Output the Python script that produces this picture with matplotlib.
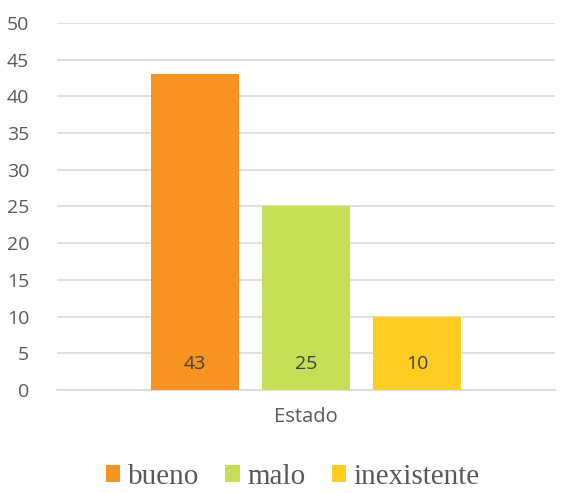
import matplotlib
matplotlib.use("Agg")
import matplotlib.pyplot as plt
from matplotlib.patches import Patch

categories = ["bueno", "malo", "inexistente"]
values = [43, 25, 10]
colors = ["#F7931E", "#C4DF55", "#FFCC22"]
yticks = [0, 5, 10, 15, 20, 25, 30, 35, 40, 45, 50]
group_label = "Estado"

text_color = "#595959"
grid_color = "#D9D9D9"

fig = plt.figure(figsize=(5.74, 4.93), dpi=100)
ax = fig.add_axes([57 / 574, 1 - 390 / 493, (555 - 57) / 574, (390 - 23) / 493])

x = list(range(len(values)))
bars = ax.bar(x, values, width=0.79, color=colors, zorder=3)

for xi, v in zip(x, values):
    ax.annotate(str(v), xy=(xi, 0), xytext=(0, 19), textcoords="offset points",
                ha="center", va="center", fontsize=14, color="#404040",
                family="Open Sans", zorder=4)

ax.set_xlim(-1.243, 3.243)
ax.set_ylim(0, 50)
ax.set_yticks(yticks)
ax.yaxis.grid(True, color=grid_color, linewidth=1.2, zorder=0)
ax.set_axisbelow(True)
for s in ["top", "right", "left"]:
    ax.spines[s].set_visible(False)
ax.spines["bottom"].set_color(grid_color)
ax.spines["bottom"].set_linewidth(1.2)
ax.tick_params(axis="y", length=0, pad=20, labelsize=14, labelcolor=text_color)
for lbl in ax.get_yticklabels():
    lbl.set_family("Open Sans")
ax.set_xticks([1])
ax.set_xticklabels([group_label], family="Open Sans", fontsize=14.5, color=text_color)
ax.tick_params(axis="x", length=0, pad=12)

handles = [Patch(facecolor=c, edgecolor="none") for c in colors]
fig.legend(handles, categories, loc="center", bbox_to_anchor=(0.51, 1 - 477 / 493),
           ncol=3, frameon=False, handlelength=0.5, handleheight=0.5,
           handletextpad=0.25, columnspacing=0.9,
           prop={"family": "Liberation Serif", "size": 21}, labelcolor=text_color)

fig.savefig("out.png", dpi=100)
